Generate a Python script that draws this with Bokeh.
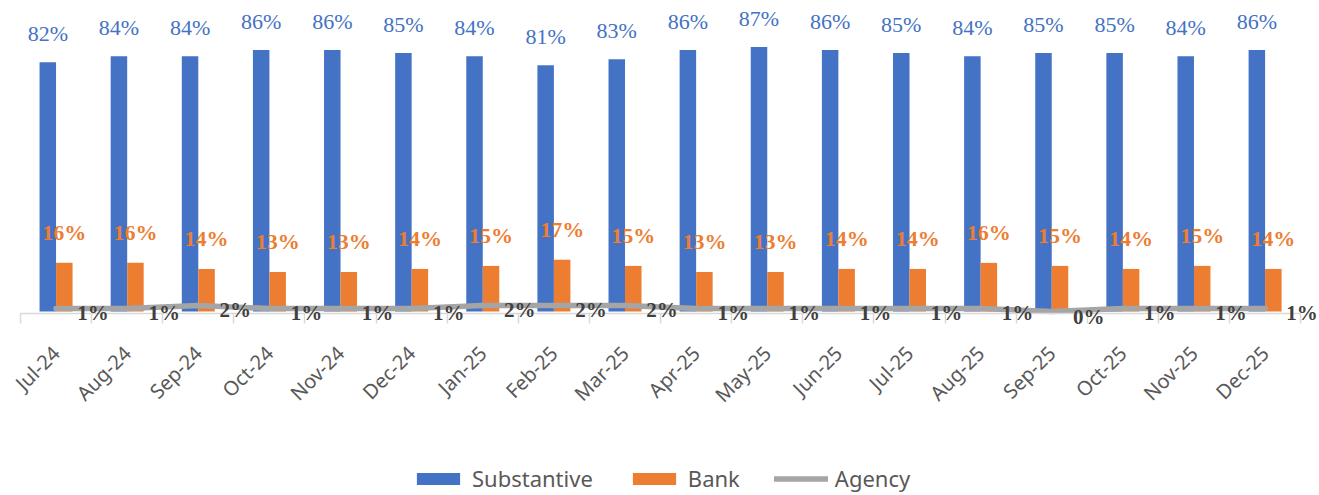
import numpy as np
from math import pi
from bokeh.plotting import figure
from bokeh.models import (ColumnDataSource, Range1d, FixedTicker, LabelSet,
                          Legend, LegendItem)
from bokeh.embed import file_html
from bokeh.resources import INLINE

# ---- data ----
months = ["Jul-24", "Aug-24", "Sep-24", "Oct-24", "Nov-24", "Dec-24",
          "Jan-25", "Feb-25", "Mar-25", "Apr-25", "May-25", "Jun-25",
          "Jul-25", "Aug-25", "Sep-25", "Oct-25", "Nov-25", "Dec-25"]
substantive = [82, 84, 84, 86, 86, 85, 84, 81, 83, 86, 87, 86, 85, 84, 85, 85, 84, 86]
bank = [16, 16, 14, 13, 13, 14, 15, 17, 15, 13, 13, 14, 14, 16, 15, 14, 15, 14]
agency = [1, 1, 2, 1, 1, 1, 2, 2, 2, 1, 1, 1, 1, 1, 0, 1, 1, 1]

BLUE = "#4472C4"
ORANGE = "#ED7D31"
GRAY = "#A5A5A5"
FONT = "Noto Sans"

n = len(months)
centers = np.arange(n) + 0.5
bw = 0.232

src = ColumnDataSource(dict(
    xc=centers,
    xb=centers - bw / 2,
    xo=centers + bw / 2,
    sub=substantive,
    bank=bank,
    agency=agency,
    sub_lbl=[f"{v}%" for v in substantive],
    bank_lbl=[f"{v}%" for v in bank],
    ag_lbl=[f"{v}%" for v in agency],
))

W, H = 1319, 495
cat_px = 71.12          # pixels per category
pct_px = 3.04           # pixels per percent
left_px, base_px = 20, 311
axis_y = -0.66

p = figure(width=W, height=H, output_backend="svg", toolbar_location=None,
           x_range=Range1d(-left_px / cat_px, (W - left_px) / cat_px),
           y_range=Range1d(-(H - base_px) / pct_px, base_px / pct_px),
           y_axis_location=None, min_border=0)
p.outline_line_color = None
p.xgrid.visible = False
p.ygrid.visible = False
p.background_fill_color = "white"

r_sub = p.vbar(x="xb", top="sub", bottom=0, width=bw, source=src,
               fill_color=BLUE, line_color=None)
r_bank = p.vbar(x="xo", top="bank", bottom=0, width=bw, source=src,
                fill_color=ORANGE, line_color=None)
r_ag = p.line(x="xc", y="agency", source=src, line_color=GRAY, line_width=5.5,
              line_cap="round", line_join="round")

# axis
ax = p.xaxis[0]
ax.fixed_location = axis_y
ax.bounds = (0, n)
ax.ticker = FixedTicker(ticks=list(centers), minor_ticks=list(np.arange(n + 1)))
ax.major_label_overrides = {float(c): m for c, m in zip(centers, months)}
ax.major_label_orientation = pi / 4
ax.major_label_text_font = FONT
ax.major_label_text_font_size = "20px"
ax.major_label_text_color = "#595959"
ax.major_label_standoff = 26
ax.major_tick_line_color = None
ax.major_tick_in = 0
ax.major_tick_out = 0
ax.minor_tick_line_color = "#D9D9D9"
ax.minor_tick_line_width = 1.5
ax.minor_tick_in = 0
ax.minor_tick_out = 10
ax.axis_line_color = "#D9D9D9"
ax.axis_line_width = 1.5

# data labels
p.add_layout(LabelSet(x="xb", y="sub", text="sub_lbl", source=src,
                      text_align="center", text_baseline="alphabetic",
                      y_offset=21, text_font=FONT, text_font_size="22px",
                      text_color=BLUE))
p.add_layout(LabelSet(x="xo", y="bank", text="bank_lbl", source=src,
                      text_align="center", text_baseline="alphabetic",
                      y_offset=23, text_font=FONT, text_font_size="22px",
                      text_font_style="bold", text_color=ORANGE))
p.add_layout(LabelSet(x="xc", y="agency", text="ag_lbl", source=src,
                      text_align="center", text_baseline="alphabetic",
                      x_offset=37, y_offset=-12, text_font=FONT,
                      text_font_size="21px", text_font_style="bold",
                      text_color="#404040"))

legend = Legend(items=[LegendItem(label="Substantive", renderers=[r_sub]),
                       LegendItem(label="Bank", renderers=[r_bank]),
                       LegendItem(label="Agency", renderers=[r_ag])],
                orientation="horizontal", location=(411, 2),
                glyph_width=54, glyph_height=15, label_standoff=7,
                spacing=34, padding=0, margin=0,
                border_line_color=None, background_fill_alpha=0,
                label_text_font=FONT, label_text_font_size="22px",
                label_text_color="#595959")
p.add_layout(legend, "center")

open("out.html", "w").write(file_html(p, INLINE))
